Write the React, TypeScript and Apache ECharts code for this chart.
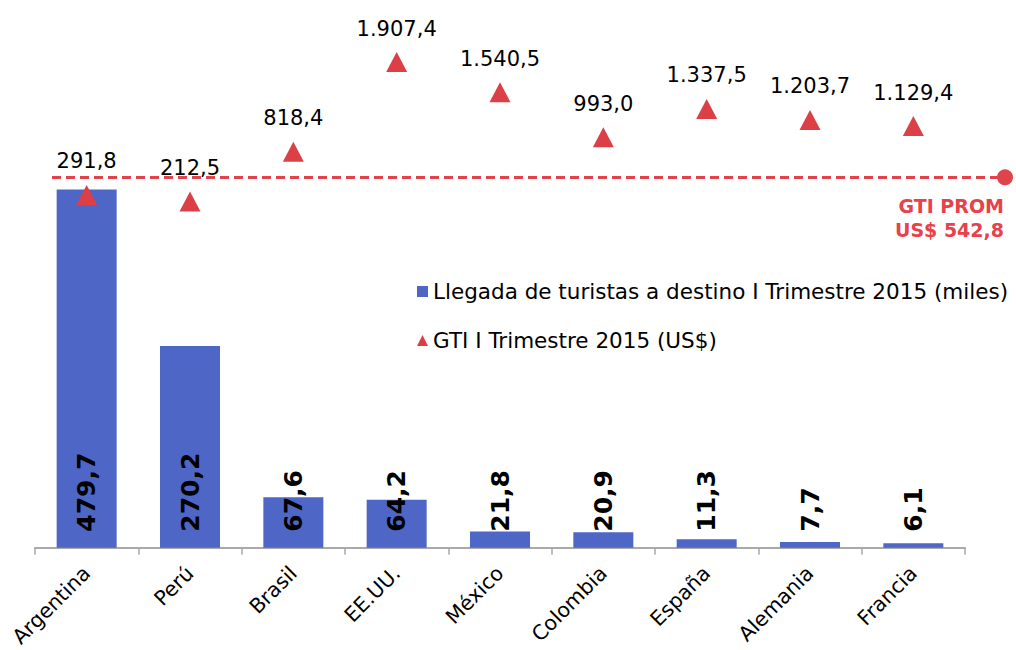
import React, { useEffect, useRef } from "react";
import * as echarts from "echarts";

const categories = ["Argentina", "Perú", "Brasil", "EE.UU.", "México", "Colombia", "España", "Alemania", "Francia"];
const arrivals = [479.7, 270.2, 67.6, 64.2, 21.8, 20.9, 11.3, 7.7, 6.1];
const gti = [291.8, 212.5, 818.4, 1907.4, 1540.5, 993.0, 1337.5, 1203.7, 1129.4];
const gtiAverage = 542.8;
const barName = "Llegada de turistas a destino I Trimestre 2015 (miles)";
const gtiName = "GTI I Trimestre 2015 (US$)";
const averageLabel = ["GTI PROM", "US$ 542,8"];

const FONT = "DejaVu Sans, Verdana, sans-serif";
const BLUE = "#4E66C6";
const RED = "#DD3F47";
const RED_TEXT = "#E8414A";

function fmt(v: number): string {
  const [i, d] = v.toFixed(1).split(".");
  const withSep = i.replace(/\B(?=(\d{3})+(?!\d))/g, ".");
  return withSep + "," + d;
}

export default function App() {
  const ref = useRef<HTMLDivElement>(null);
  useEffect(() => {
    if (!ref.current) return;
    const chart = echarts.init(ref.current, null, { renderer: "svg" });
    chart.setOption({
      animation: false,
      backgroundColor: "#ffffff",
      textStyle: { fontFamily: FONT },
      grid: { left: 35, right: 51, top: 13, bottom: 102, containLabel: false },
      legend: {
        orient: "vertical",
        left: 417,
        top: 279,
        padding: 0,
        itemWidth: 11,
        itemHeight: 11,
        itemGap: 24,
        textStyle: { fontSize: 21.5, color: "#000", fontFamily: FONT, lineHeight: 25 },
        data: [
          { name: barName, icon: "rect" },
          { name: gtiName, icon: "triangle", itemStyle: { color: RED, opacity: 1 } },
        ],
      },
      xAxis: {
        type: "category",
        data: categories,
        axisLine: { lineStyle: { color: "#A9A9A9", width: 2 } },
        axisTick: { show: true, length: 7, lineStyle: { color: "#A9A9A9", width: 1.5 } },
        axisLabel: { rotate: 45, fontSize: 20.5, color: "#000", margin: 22, fontFamily: FONT, interval: 0 },
      },
      yAxis: [
        { type: "value", min: 0, max: 716, show: false, splitLine: { show: false } },
        { type: "value", min: -3960, max: 2540, show: false, splitLine: { show: false } },
      ],
      series: [
        {
          name: barName,
          type: "bar",
          data: arrivals,
          barWidth: 60,
          itemStyle: { color: BLUE },
          label: {
            show: true,
            position: "insideBottom",
            distance: 16,
            rotate: 90,
            align: "left",
            verticalAlign: "middle",
            fontSize: 25,
            fontWeight: "bold",
            color: "#000",
            fontFamily: FONT,
            formatter: (p: any) => fmt(p.value),
          },
        },
        {
          name: gtiName,
          type: "scatter",
          yAxisIndex: 1,
          data: gti,
          clip: false,
          z: 5,
          symbol: "triangle",
          symbolSize: [21, 20],
          symbolOffset: [0, -3],
          itemStyle: { color: RED, opacity: 1 },
          label: {
            show: true,
            position: "top",
            distance: 13,
            fontSize: 21,
            color: "#000",
            fontFamily: FONT,
            formatter: (p: any) => fmt(p.value),
          },
          markLine: {
            silent: true,
            symbol: ["none", "circle"],
            symbolSize: 16,
            lineStyle: { color: "#E0434B", type: [9, 5], width: 3, opacity: 1 },
            label: {
              show: true,
              position: "insideEndBottom",
              distance: [1, 17],
              formatter: averageLabel.join("\n"),
              color: RED_TEXT,
              fontWeight: "bold",
              fontSize: 19,
              lineHeight: 24,
              fontFamily: FONT,
            },
            data: [[{ yAxis: gtiAverage, x: 52 }, { yAxis: gtiAverage, x: 1005 }]],
          },
        },
      ],
    });
    return () => chart.dispose();
  }, []);
  return (
    <div
      ref={ref}
      style={{ position: "fixed", left: 0, top: 0, width: 1016, height: 650, background: "#fff" }}
    />
  );
}
